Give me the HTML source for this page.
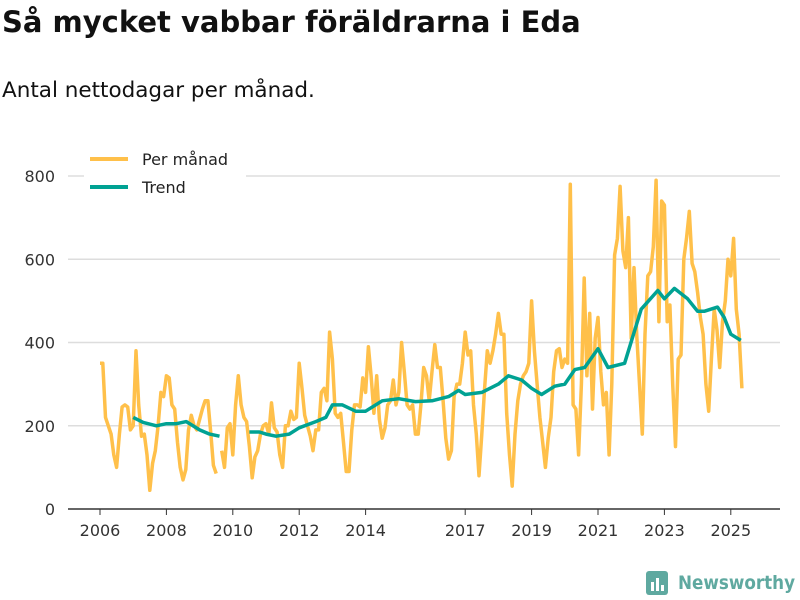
<!DOCTYPE html>
<html><head><meta charset="utf-8"><style>
body{margin:0;width:800px;height:600px;background:#fff;font-family:"Liberation Sans","DejaVu Sans",sans-serif;overflow:hidden}
h1{position:absolute;left:2px;top:5px;margin:0;font-size:29px;font-weight:bold;color:#111;font-family:"DejaVu Sans",sans-serif}
p{position:absolute;left:2px;top:78px;margin:0;font-size:21.5px;color:#111;font-family:"DejaVu Sans",sans-serif}
</style></head><body>
<h1>Så mycket vabbar föräldrarna i Eda</h1>
<p>Antal nettodagar per månad.</p>
<svg id="c" width="800" height="600" style="position:absolute;left:0;top:0"></svg>
<script>
const yTicks=[0,200,400,600,800];
const xTicks=[2006,2008,2010,2012,2014,2017,2019,2021,2023,2025];
const monthly=[
350,350,220,200,180,130,100,180,245,250,245,190,
200,380,250,175,180,130,45,110,140,200,280,270,
320,315,250,240,160,100,70,95,190,225,200,190,
215,240,260,260,185,105,85,null,140,100,195,205,
130,250,320,250,220,210,150,75,125,140,180,200,
205,180,255,195,185,130,100,200,200,235,215,220,
350,290,225,200,175,140,190,190,280,290,260,425,
360,230,220,230,160,90,90,190,250,250,245,315,
280,390,320,230,320,215,170,195,250,260,310,250,
280,400,330,250,240,250,180,180,250,340,320,260,
330,395,340,340,260,170,120,140,270,300,300,350,
425,370,380,250,180,80,180,290,380,350,380,420,
470,420,420,230,130,55,180,260,300,320,330,350,
500,380,300,220,160,100,170,220,330,380,385,340,
360,350,780,250,240,130,300,555,320,470,240,410,
460,330,250,280,130,300,610,650,775,620,580,700,
410,580,420,300,180,420,560,570,630,790,450,740,
730,450,490,300,150,360,370,600,650,715,590,570,
520,460,420,300,235,360,480,430,340,450,500,600,
560,650,480,420,290];
const trendYears=[2007.0,2007.3,2007.7,2008.0,2008.3,2008.6,2009.0,2009.3,2009.6,null,2010.5,2010.8,2011.0,2011.3,2011.7,2012.0,2012.5,2012.8,2013.0,2013.3,2013.7,2014.0,2014.5,2015.0,2015.5,2016.0,2016.5,2016.8,2017.0,2017.5,2018.0,2018.3,2018.7,2019.0,2019.3,2019.7,2020.0,2020.3,2020.6,2021.0,2021.3,2021.8,2022.3,2022.8,2023.0,2023.3,2023.7,2024.0,2024.2,2024.6,2024.8,2025.0,2025.3];
const trendVals=[220,208,200,205,205,210,190,180,175,null,185,185,180,175,180,195,210,220,250,250,235,235,260,265,258,260,270,285,275,280,300,320,310,290,275,295,300,335,340,385,340,350,480,525,505,530,505,475,475,485,460,420,405];
const svg=document.getElementById('c');const NS='http://www.w3.org/2000/svg';
const x=v=>100+(v-2006)*33.2;const y=v=>509-v*0.41625;
function el(t,a,p){const e=document.createElementNS(NS,t);for(const k in a)e.setAttribute(k,a[k]);(p||svg).appendChild(e);return e;}
yTicks.forEach(t=>{
const g=el('line',{x1:68,x2:780,y1:y(t),y2:y(t),stroke:t?'#ddd':'#333','stroke-width':1.5});


const tx=el('text',{x:55,y:y(t)+6,'text-anchor':'end','font-size':16,fill:'#333','font-family':'DejaVu Sans, sans-serif'});tx.textContent=t;


});
xTicks.forEach(t=>{
const l=el('line',{x1:x(t),x2:x(t),y1:509,y2:515,stroke:'#333'});


const tx=el('text',{x:x(t),y:536,'text-anchor':'middle','font-size':16,fill:'#333','font-family':'DejaVu Sans, sans-serif'});tx.textContent=t;


});
function path(xs,vs){let d='',pen=false;for(let i=0;i<vs.length;i++){if(vs[i]==null||xs[i]==null){pen=false;continue;}d+=(pen?'L':'M')+x(xs[i]).toFixed(1)+','+y(vs[i]).toFixed(1);pen=true;}return d;}
const mx=monthly.map((v,i)=>2006+i/12);
const p1=el('path',{d:path(mx,monthly),fill:'none',stroke:'#ffc04a','stroke-width':3.5,'stroke-linejoin':'round'});


const p2=el('path',{d:path(trendYears,trendVals),fill:'none',stroke:'#00a293','stroke-width':3.5,'stroke-linejoin':'round'});


[['Per månad','#ffc04a',159],['Trend','#00a293',187]].forEach(([n,c,yy])=>{
const g=el('g',{});


el('rect',{x:84,y:yy-14,width:162,height:26,fill:'#fff'},g);
el('line',{x1:90,x2:128,y1:yy,y2:yy,stroke:c,'stroke-width':4},g);
const t=el('text',{x:142,y:yy+6,'font-size':16,fill:'#222','font-family':'DejaVu Sans, sans-serif'},g);t.textContent=n;
});
const lg=el('g',{});


el('rect',{x:646,y:571,width:22,height:24,rx:3,fill:'#5fa9a0'},lg);
el('rect',{x:651,y:582,width:3,height:9,fill:'#fff'},lg);
el('rect',{x:656,y:578,width:3,height:13,fill:'#fff'},lg);
el('rect',{x:661,y:585,width:3,height:6,fill:'#fff'},lg);
const lt=el('text',{x:678,y:589,'font-size':19,'font-weight':'bold',fill:'#5fa9a0','font-family':'DejaVu Sans, sans-serif',textLength:117,lengthAdjust:'spacingAndGlyphs'},lg);lt.textContent='Newsworthy';
</script>
</body></html>
